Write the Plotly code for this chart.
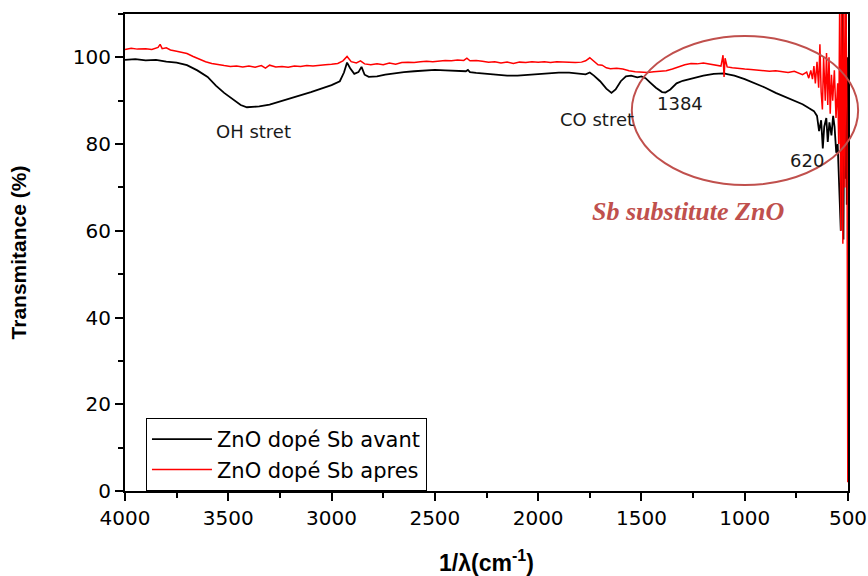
import plotly.graph_objects as go

# FTIR spectrum of Sb-doped ZnO, before ("avant") and after ("apres")
wn_avant = [4000, 3950, 3900, 3850, 3800, 3750, 3700, 3650, 3600, 3560, 3520, 3480, 3440, 3410,
            3380, 3350, 3300, 3250, 3200, 3150, 3100, 3050, 3000, 2960, 2940, 2925, 2910, 2890,
            2870, 2855, 2840, 2820, 2780, 2740, 2700, 2650, 2600, 2550, 2500, 2450, 2400, 2350,
            2340, 2330, 2300, 2250, 2200, 2150, 2100, 2050, 2000, 1950, 1900, 1850, 1800, 1770,
            1750, 1730, 1700, 1670, 1645, 1625, 1600, 1575, 1550, 1520, 1500, 1480, 1460, 1430,
            1400, 1384, 1360, 1330, 1300, 1270, 1240, 1200, 1150, 1100, 1080, 1050, 1000, 950,
            900, 850, 800, 760, 720, 690, 665, 650, 640, 630, 622, 615, 605, 598, 590, 580, 572,
            565, 557, 550, 545, 540, 535, 530, 526, 522, 518, 514, 510, 506, 502]
t_avant = [99.4, 99.6, 99.3, 99.4, 99.0, 98.8, 98.2, 97.0, 95.5, 93.5, 91.8, 90.3, 89.0, 88.5,
           88.6, 88.7, 89.1, 89.8, 90.5, 91.3, 92.0, 92.8, 93.6, 94.5, 96.5, 98.8, 97.5, 96.2,
           96.6, 97.8, 96.0, 95.5, 95.6, 96.0, 96.3, 96.6, 96.8, 97.0, 97.1, 97.0, 96.9, 96.8,
           97.1, 96.6, 96.4, 96.2, 96.0, 95.8, 95.8, 96.0, 96.2, 96.4, 96.5, 96.5, 96.3, 96.1,
           96.5, 95.8, 94.5, 92.8, 91.8, 92.6, 94.5, 95.6, 95.8, 95.4, 95.6, 95.2, 94.3, 93.0,
           92.0, 91.9, 92.6, 94.0, 94.6, 95.0, 95.4, 95.8, 96.2, 96.3, 96.1, 95.8, 95.0, 94.0,
           93.0, 91.8, 90.8, 90.0, 89.2, 88.3, 87.6, 86.5, 83.0, 85.5, 79.0, 84.0, 86.0, 80.5,
           85.0, 82.0, 86.5, 84.0, 78.0, 80.0, 74.0, 68.0, 60.0, 88.0, 112.0, 58.0, 95.0, 72.0,
           112.0, 66.0, 100.0]

wn_apres = [4000, 3970, 3940, 3900, 3870, 3840, 3830, 3820, 3800, 3780, 3750, 3720, 3700, 3670,
            3640, 3610, 3580, 3550, 3520, 3490, 3460, 3430, 3400, 3370, 3340, 3320, 3300, 3270,
            3240, 3210, 3180, 3150, 3120, 3090, 3060, 3030, 3000, 2970, 2945, 2925, 2905, 2880,
            2860, 2840, 2810, 2780, 2750, 2720, 2690, 2660, 2630, 2600, 2570, 2540, 2510, 2480,
            2450, 2420, 2390, 2360, 2345, 2330, 2300, 2270, 2240, 2210, 2180, 2150, 2120, 2090,
            2060, 2030, 2000, 1970, 1940, 1910, 1880, 1850, 1820, 1790, 1770, 1750, 1730, 1710,
            1690, 1670, 1650, 1620, 1590, 1560, 1530, 1500, 1470, 1440, 1410, 1380, 1350, 1320,
            1290, 1260, 1230, 1200, 1170, 1140, 1115, 1105, 1100, 1095, 1085, 1060, 1030, 1000,
            970, 940, 910, 880, 850, 820, 790, 760, 740, 720, 700, 690, 680, 672, 665, 658, 650,
            642, 636, 630, 624, 618, 610, 604, 598, 592, 586, 580, 574, 566, 558, 550, 545, 540,
            535, 530, 525, 520, 515, 510, 505, 501]
t_apres = [101.8, 102.1, 101.9, 102.0, 101.8, 102.3, 103.0, 102.0, 102.2, 101.7, 101.4, 101.2,
           100.9, 100.2, 99.6, 99.0, 98.6, 98.3, 98.1, 97.9, 98.0, 97.8, 98.0, 97.7, 98.1, 97.5,
           98.2, 97.8, 97.9, 97.7, 98.0, 97.9, 98.1, 98.0, 98.2, 98.3, 98.4, 98.6, 99.2, 100.2,
           99.0, 98.7, 99.2, 98.5, 98.3, 98.5, 98.3, 98.7, 98.4, 98.8, 98.9, 98.8, 99.0, 99.1,
           99.0, 99.2, 99.3, 99.2, 99.4, 99.3, 99.8, 99.2, 99.3, 99.1, 98.9, 99.0, 98.7, 98.9,
           98.6, 98.9, 98.8, 99.0, 98.9, 99.0, 98.8, 99.0, 98.9, 98.9, 98.8, 98.9, 99.2, 99.9,
           99.1, 98.3, 98.2, 97.6, 97.4, 97.5, 97.3, 96.9, 96.7, 96.6, 96.5, 96.7, 96.8, 96.9,
           97.3, 97.8, 98.3, 98.6, 98.5, 98.7, 98.4, 98.2, 98.0, 100.5, 95.5, 99.8, 97.8, 97.6,
           97.4, 97.3, 97.2, 97.1, 97.0, 96.8, 96.9, 96.7, 96.5, 96.8, 96.4, 96.0, 96.6, 95.2,
           97.0, 95.0, 98.0, 94.0, 99.0, 93.0, 103.0, 92.0, 88.0, 100.0, 90.0, 101.0, 89.0,
           100.0, 87.0, 96.0, 90.0, 97.0, 86.0, 94.0, 80.0, 115.0, 60.0, 115.0, 57.0, 115.0,
           70.0, 115.0, 85.0, 2.0]

series_names = ["ZnO dopé Sb avant", "ZnO dopé Sb apres"]
series_colors = ["#000000", "#ff0000"]

x_ticks = [4000, 3500, 3000, 2500, 2000, 1500, 1000, 500]
y_ticks = [0, 20, 40, 60, 80, 100]

# Band labels: (text, wavenumber, transmittance)
band_labels = [("OH stret", 3380, 82.8), ("CO stret", 1715, 85.7),
               ("1384", 1314, 89.3), ("620", 700, 76.2)]

SANS = "Liberation Sans, Arial, sans-serif"
WIDE = "DejaVu Sans, Verdana, sans-serif"

fig = go.Figure()
fig.add_trace(go.Scatter(x=wn_avant, y=t_avant, mode="lines", name=series_names[0],
                         line=dict(color=series_colors[0], width=1.8)))
fig.add_trace(go.Scatter(x=wn_apres, y=t_apres, mode="lines", name=series_names[1],
                         line=dict(color=series_colors[1], width=1.5)))

for text, xv, yv in band_labels:
    fig.add_annotation(x=xv, y=yv, xref="x", yref="y", text=text, showarrow=False,
                       font=dict(family=WIDE, size=18, color="#1a1a1a"))

fig.add_annotation(x=1275, y=64.4, xref="x", yref="y", text="<b><i>Sb substitute ZnO</i></b>",
                   showarrow=False,
                   font=dict(family="Liberation Serif, Times New Roman, serif", size=26,
                             color="#c0504d"))

# Ellipse around the Sb region (extends slightly past the right frame)
fig.add_shape(type="circle", xref="x domain", yref="y domain",
              x0=0.701, x1=1.014, y0=0.6415, y1=0.954,
              line=dict(color="#c0504d", width=2))

axis_common = dict(showgrid=False, zeroline=False, linecolor="black", linewidth=2,
                   tickcolor="black", tickwidth=2, ticklen=8, automargin=False,
                   tickfont=dict(family=WIDE, size=20, color="black"))

fig.update_layout(
    width=868, height=576,
    margin=dict(l=125, r=20, t=14, b=85, autoexpand=False),
    paper_bgcolor="white", plot_bgcolor="white",
    xaxis=dict(range=[4000, 500], tickvals=x_ticks, ticks="outside", mirror=True,
               minor=dict(dtick=250, ticks="outside", ticklen=5, tickwidth=2, tickcolor="black"),
               title=dict(text="<b>1/λ(cm<sup>-1</sup>)</b>", standoff=28,
                          font=dict(family=SANS, size=23, color="black")),
               **axis_common),
    yaxis=dict(range=[0, 110], tickvals=y_ticks, ticks="outside", mirror=True,
               minor=dict(dtick=10, ticks="outside", ticklen=5, tickwidth=2, tickcolor="black"),
               title=dict(text="<b>Transmitance (%)</b>", standoff=40,
                          font=dict(family=SANS, size=21, color="black")),
               **axis_common),
    xaxis2=dict(overlaying="x", side="top", anchor="y", range=[4000, 500], tickvals=x_ticks,
                ticks="inside", showticklabels=False, showline=False, showgrid=False,
                zeroline=False, tickcolor="black", tickwidth=2, ticklen=8, automargin=False,
                minor=dict(dtick=250, ticks="inside", ticklen=5, tickwidth=2, tickcolor="black")),
    yaxis2=dict(overlaying="y", side="right", anchor="x", range=[0, 110], tickvals=y_ticks,
                ticks="inside", showticklabels=False, showline=False, showgrid=False,
                zeroline=False, tickcolor="black", tickwidth=2, ticklen=8, automargin=False,
                minor=dict(dtick=10, ticks="inside", ticklen=5, tickwidth=2, tickcolor="black")),
    legend=dict(x=0.029, y=0.153, xanchor="left", yanchor="top",
                bgcolor="white", bordercolor="black", borderwidth=1,
                font=dict(family=WIDE, size=21, color="black"),
                tracegroupgap=0, itemwidth=60),
    showlegend=True,
)

fig.write_html("out.html")
